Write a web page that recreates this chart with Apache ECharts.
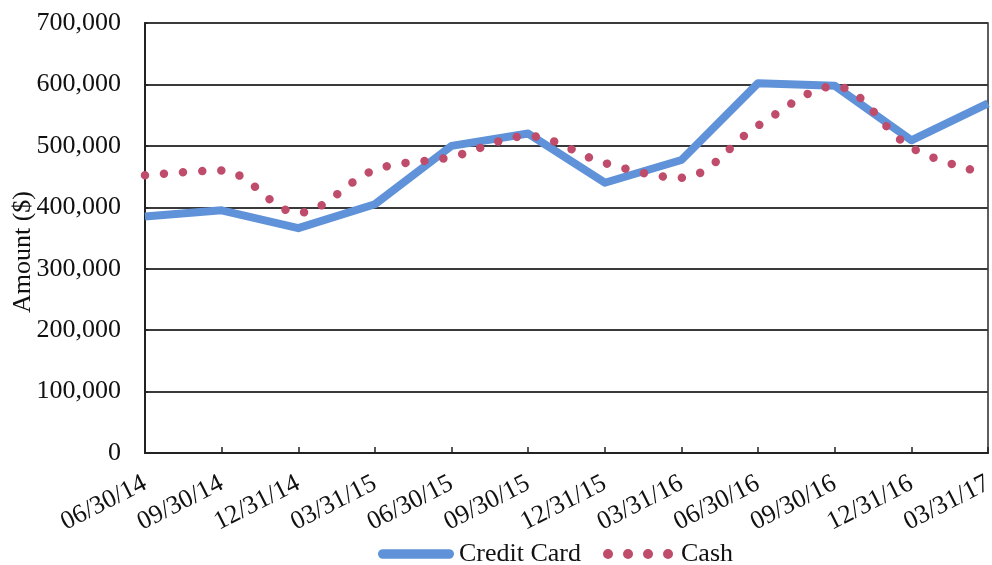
<!DOCTYPE html>
<html>
<head>
<meta charset="utf-8">
<script src="https://cdn.jsdelivr.net/npm/echarts@6/dist/echarts.min.js"></script>
<style>
  html, body { margin: 0; padding: 0; background: #fff; }
  #chart { width: 992px; height: 565px; }
</style>
</head>
<body>
<div id="chart"></div>
<script>
// Quarter-end dates
const quarters = ['06/30/14', '09/30/14', '12/31/14', '03/31/15', '06/30/15', '09/30/15',
                  '12/31/15', '03/31/16', '06/30/16', '09/30/16', '12/31/16', '03/31/17'];
// Amounts in dollars
const creditCard = [385000, 395000, 366000, 405000, 500000, 520000,
                    440000, 477000, 602000, 598000, 509000, 569000];
const cash = [452000, 460000, 391000, 461000, 482000, 516000,
              472000, 448000, 533000, 597000, 497000, 454000];
const yTicks = [0, 100000, 200000, 300000, 400000, 500000, 600000, 700000];

const serif = '"Liberation Serif", "DejaVu Serif", serif';
const blue = '#5f92d8';
const rose = '#c04c6c';

// Legend glyphs: a rounded bar for the solid series, a row of dots for the dotted one
const barIcon = 'path://M5,0 L73,0 A5,5 0 0 1 73,10 L5,10 A5,5 0 0 1 5,0 Z';
const dotsIcon = 'path://' + [5, 25, 45, 65].map(c =>
  `M${c - 5},5 A5,5 0 1 1 ${c + 5},5 A5,5 0 1 1 ${c - 5},5 Z`).join(' ');

const chart = echarts.init(document.getElementById('chart'));

chart.setOption({
  backgroundColor: '#ffffff',
  animation: false,
  textStyle: { fontFamily: serif, color: '#111' },
  grid: {
    left: 145, right: 4, top: 23, bottom: 112,
    containLabel: false,
    outerBoundsMode: 'none',
    show: true, borderColor: '#2a2a2a', borderWidth: 1.5, backgroundColor: 'transparent'
  },
  legend: {
    top: 536,
    left: 373,
    itemWidth: 76,
    itemHeight: 10,
    itemGap: 22,
    textStyle: { fontFamily: serif, fontSize: 26, color: '#111' },
    data: [
      { name: 'Credit Card', icon: barIcon },
      { name: 'Cash', icon: dotsIcon, itemStyle: { borderWidth: 0 } }
    ]
  },
  xAxis: {
    type: 'category',
    data: quarters,
    boundaryGap: false,
    axisLine: { lineStyle: { color: '#222', width: 2 } },
    axisTick: { show: true, inside: true, length: 6, lineStyle: { color: '#222', width: 1.5 } },
    axisLabel: {
      rotate: 27, fontSize: 26, fontFamily: serif, color: '#111', margin: 29,
      interval: 0, hideOverlap: false
    },
    splitLine: { show: false }
  },
  yAxis: {
    type: 'value',
    min: yTicks[0],
    max: yTicks[yTicks.length - 1],
    interval: 100000,
    name: 'Amount ($)',
    nameLocation: 'middle',
    nameGap: 109,
    nameMoveOverlap: false,
    nameTextStyle: { fontFamily: serif, fontSize: 26, color: '#111', padding: [0, 28, 0, 0] },
    axisLine: { show: true, lineStyle: { color: '#222', width: 2 } },
    axisTick: { show: true, inside: true, length: 3, lineStyle: { color: '#222', width: 1.5 } },
    axisLabel: {
      fontSize: 26, fontFamily: serif, color: '#111', margin: 24,
      formatter: v => v.toLocaleString('en-US')
    },
    splitLine: { lineStyle: { color: '#3a3a3a', width: 2 } }
  },
  series: [
    {
      name: 'Credit Card',
      type: 'line',
      data: creditCard,
      showSymbol: false,
      symbol: 'none',
      color: blue,
      lineStyle: { color: blue, width: 8, join: 'round' }
    },
    {
      name: 'Cash',
      type: 'line',
      data: cash,
      showSymbol: false,
      symbol: 'none',
      smooth: 0.35,
      color: rose,
      lineStyle: { color: rose, width: 8.5, type: [0.01, 19.1], cap: 'round' }
    }
  ]
});
</script>
</body>
</html>
